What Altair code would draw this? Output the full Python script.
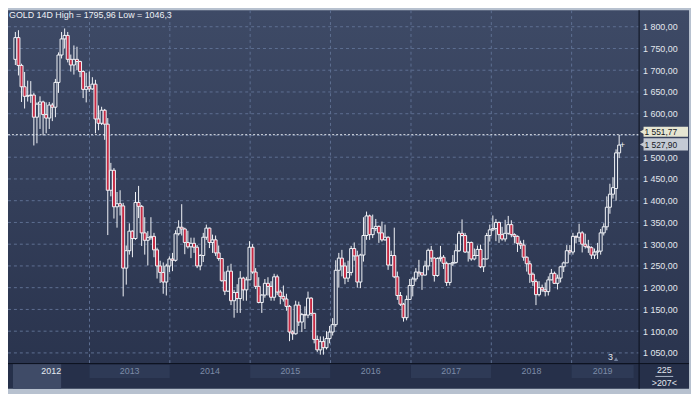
import altair as alt
import pandas as pd

# ---------------- data ----------------
opens = [1725,1775,1711,1662,1640,1642,1643,1592,1622,1627,
         1598,1590,1620,1615,1672,1735,1772,1780,1725,1712,
         1725,1720,1697,1656,1662,1657,1668,1588,1578,1608,
         1576,1424,1470,1386,1393,1388,1245,1285,1330,1313,
         1396,1387,1326,1309,1315,1318,1287,1250,1235,1213,
         1250,1266,1263,1324,1339,1335,1304,1294,1302,1293,
         1250,1274,1316,1337,1304,1310,1280,1267,1216,1192,
         1238,1170,1189,1175,1222,1195,1218,1293,1236,1203,
         1166,1183,1210,1203,1178,1225,1190,1180,1174,1157,
         1098,1094,1160,1121,1138,1137,1176,1141,1081,1057,
         1076,1062,1083,1098,1115,1240,1268,1250,1222,1235,
         1290,1273,1213,1275,1320,1365,1322,1336,1341,1326,
         1310,1316,1252,1274,1225,1182,1162,1131,1173,1205,
         1220,1236,1234,1229,1250,1286,1268,1228,1267,1270,
         1256,1212,1255,1258,1285,1325,1320,1282,1304,1266,
         1274,1288,1248,1266,1320,1333,1336,1350,1322,1312,
         1325,1345,1322,1318,1302,1298,1270,1255,1231,1214,
         1184,1200,1195,1191,1218,1233,1210,1222,1248,1257,
         1285,1282,1318,1316,1326,1300,1295,1292,1275,1282,
         1284,1326,1340,1385,1415,1428,1510]
highs = [1788,1792,1715,1696,1676,1675,1648,1626,1640,1630,
         1626,1627,1625,1680,1741,1788,1796,1788,1736,1757,
         1754,1722,1700,1694,1697,1684,1678,1619,1616,1611,
         1590,1487,1475,1420,1424,1395,1297,1348,1332,1420,
         1434,1390,1362,1330,1362,1326,1292,1262,1258,1255,
         1272,1280,1332,1355,1392,1338,1331,1315,1315,1298,
         1277,1326,1345,1338,1322,1320,1297,1268,1237,1250,
         1255,1195,1208,1238,1225,1225,1307,1300,1245,1224,
         1185,1220,1224,1215,1232,1230,1195,1205,1186,1160,
         1102,1170,1168,1142,1157,1191,1178,1142,1090,1088,
         1088,1100,1112,1130,1263,1280,1287,1258,1262,1296,
         1304,1285,1278,1362,1375,1368,1368,1358,1343,1352,
         1345,1318,1285,1338,1237,1190,1165,1182,1220,1225,
         1245,1264,1235,1262,1290,1296,1270,1270,1296,1275,
         1260,1256,1275,1300,1330,1357,1326,1306,1306,1290,
         1297,1299,1268,1326,1345,1366,1358,1352,1340,1356,
         1365,1355,1325,1320,1308,1310,1272,1262,1235,1219,
         1215,1207,1212,1226,1243,1237,1230,1250,1260,1298,
         1298,1326,1320,1347,1330,1324,1310,1295,1290,1303,
         1335,1348,1410,1439,1454,1518,1551.77]
lows = [1712,1688,1627,1612,1628,1625,1527,1532,1565,1550,
        1555,1565,1583,1592,1648,1727,1750,1718,1697,1690,
        1700,1684,1636,1626,1650,1655,1555,1562,1574,1540,
        1321,1410,1359,1338,1366,1180,1207,1276,1270,1310,
        1360,1296,1276,1251,1310,1270,1221,1211,1186,1182,
        1236,1238,1260,1320,1320,1277,1290,1268,1280,1245,
        1240,1259,1310,1291,1280,1273,1262,1214,1183,1190,
        1160,1131,1142,1142,1170,1170,1218,1232,1197,1164,
        1142,1177,1182,1170,1170,1183,1162,1168,1147,1077,
        1080,1092,1112,1098,1105,1130,1135,1072,1052,1046,
        1046,1058,1072,1090,1110,1200,1226,1208,1213,1228,
        1262,1200,1199,1260,1310,1310,1314,1330,1303,1306,
        1308,1241,1250,1222,1172,1158,1122,1125,1173,1180,
        1214,1225,1195,1228,1240,1259,1214,1225,1260,1243,
        1204,1205,1250,1255,1282,1318,1280,1260,1262,1263,
        1274,1245,1236,1265,1306,1330,1307,1303,1308,1306,
        1322,1316,1302,1282,1289,1262,1237,1211,1204,1160,
        1180,1190,1180,1182,1217,1209,1196,1212,1236,1257,
        1276,1276,1302,1305,1281,1290,1280,1266,1266,1266,
        1276,1320,1332,1370,1405,1400,1498]
closes = [1775,1711,1662,1640,1642,1643,1592,1622,1627,1598,
          1590,1620,1615,1672,1735,1772,1780,1725,1712,1725,
          1720,1697,1656,1662,1657,1668,1588,1578,1608,1576,
          1424,1470,1386,1393,1388,1245,1285,1330,1313,1396,
          1387,1326,1309,1315,1318,1287,1250,1235,1213,1250,
          1266,1263,1324,1339,1335,1304,1294,1302,1293,1250,
          1274,1316,1337,1304,1310,1280,1267,1216,1192,1238,
          1170,1189,1175,1222,1195,1218,1293,1236,1203,1166,
          1183,1210,1203,1178,1225,1190,1180,1174,1157,1098,
          1094,1160,1121,1138,1137,1176,1141,1081,1057,1076,
          1062,1083,1098,1115,1240,1268,1250,1222,1235,1290,
          1273,1213,1275,1320,1365,1322,1336,1341,1326,1310,
          1316,1252,1274,1225,1182,1162,1131,1173,1205,1220,
          1236,1234,1229,1250,1286,1268,1228,1267,1270,1256,
          1212,1255,1258,1285,1325,1320,1282,1304,1266,1274,
          1288,1248,1266,1320,1333,1336,1350,1322,1312,1325,
          1345,1322,1318,1302,1298,1270,1255,1231,1214,1184,
          1200,1195,1191,1218,1233,1210,1222,1248,1257,1285,
          1282,1318,1316,1326,1300,1295,1292,1275,1282,1284,
          1326,1340,1385,1415,1430,1510,1527.90]
first_period = "2012-01-30"          # 14-day candles
period = "14D"

price_levels = [1050, 1100, 1150, 1200, 1250, 1300, 1350, 1400,
                1450, 1500, 1550, 1600, 1650, 1700, 1750, 1800]
# the 1 550,00 label is hidden behind the price boxes in the reference
label_levels = [1050, 1100, 1150, 1200, 1250, 1300, 1350, 1400,
                1450, 1500, 1600, 1650, 1700, 1750, 1800]
grid_dates = ["2013-01-01", "2014-01-01", "2015-01-01", "2016-01-01",
              "2017-01-01", "2018-01-01", "2019-01-01"]
strip_years = [2012, 2013, 2014, 2015, 2016, 2017, 2018, 2019]
x_start = pd.Timestamp("2012-01-19")
x_end = pd.Timestamp("2019-10-10")
scroll_end = pd.Timestamp("2012-08-25")

title_text = "GOLD 14D High = 1795,96 Low = 1046,3"
box_prices = [1551.77, 1527.90]
box_labels = ["1 551,77", "1 527,90"]
box_fills = ["#e6e6d2", "#c4cad4"]
cursor_date = "2019-08-19"
cursor_price = 1527.90
marker_text = "3"
marker_text_date = "2019-06-27"
marker_tri_date = "2019-07-22"
corner_top = "225"
corner_bottom = ">207<"

# ---------------- layout / style ----------------
W = 638          # plot width
H = 383          # plot + strip height
PLOT_H = 357
RIGHT = 689
FONT = "Liberation Sans"
GRID = "#5e6f92"
WHITE = "#f2f4f8"
TXT = "#e3e7ee"

candles = pd.DataFrame({
    "date": pd.date_range(first_period, periods=len(opens), freq=period),
    "open": opens, "high": highs, "low": lows, "close": closes,
})

X = alt.Scale(domain=[alt.DateTime(year=2012, month=1, date=19),
                      alt.DateTime(year=2019, month=10, date=10)], nice=False)
Y = alt.Scale(domain=[967.5, 1837.95], nice=False, zero=False)
yaxis = alt.Axis(values=label_levels, orient="right", domain=False, ticks=False,
                 grid=False, title=None, labelPadding=4, labelFont=FONT,
                 labelFontSize=9, labelColor=TXT, labelAlign="left",
                 labelBaseline="middle", zindex=2,
                 labelExpr="replace(replace(format(datum.value, ',.2f'), ',', ' '), '.', ',')")

one = pd.DataFrame({"a": [0]})

bg = alt.Chart(one).mark_rect(
    fill=alt.Gradient(gradient="linear",
                      stops=[alt.GradientStop(color="#3e4a66", offset=0),
                             alt.GradientStop(color="#2a344e", offset=1)],
                      x1=0, x2=0, y1=0, y2=1)
).encode(x=alt.value(0), x2=alt.value(RIGHT), y=alt.value(0), y2=alt.value(PLOT_H))

strip_base = alt.Chart(one).mark_rect(fill="#26304a").encode(
    x=alt.value(0), x2=alt.value(RIGHT), y=alt.value(PLOT_H), y2=alt.value(H))

strip = pd.DataFrame({"year": [str(y) for y in strip_years]})
strip["start"] = [max(pd.Timestamp(f"{y}-01-01"), x_start) for y in strip_years]
strip["end"] = [min(pd.Timestamp(f"{y + 1}-01-01"), x_end) for y in strip_years]
strip["mid"] = strip["start"] + (strip["end"] - strip["start"]) / 2
strip["shade"] = ["#26304a" if i % 2 == 0 else "#2e3a56" for i in range(len(strip_years))]
strip["tcolor"] = ["#e6ebf2" if i == 0 else "#7d8ca8" for i in range(len(strip_years))]

bands = alt.Chart(strip).mark_rect().encode(
    x=alt.X("start:T", scale=X, axis=None), x2="end:T",
    y=alt.value(PLOT_H + 2), y2=alt.value(PLOT_H + 15),
    fill=alt.Fill("shade:N", scale=None))

thumb = alt.Chart(pd.DataFrame({"s": [x_start], "e": [scroll_end]})).mark_rect(
    fill="#3f4b67").encode(
    x=alt.X("s:T", scale=X, axis=None), x2="e:T",
    y=alt.value(PLOT_H + 1), y2=alt.value(H))

strip_labels = alt.Chart(strip).mark_text(font=FONT, fontSize=9, baseline="middle").encode(
    x=alt.X("mid:T", scale=X, axis=None), y=alt.value(PLOT_H + 8.5),
    text="year:N", color=alt.Color("tcolor:N", scale=None))

vgrid = alt.Chart(pd.DataFrame({"d": pd.to_datetime(grid_dates)})).mark_rule(
    color=GRID, strokeDash=[3, 3], strokeWidth=1).encode(
    x=alt.X("d:T", scale=X, axis=None), y=alt.value(0), y2=alt.value(PLOT_H))

hgrid = alt.Chart(pd.DataFrame({"level": price_levels})).mark_rule(
    color=GRID, strokeDash=[3, 3], strokeWidth=1).encode(
    y=alt.Y("level:Q", scale=Y, axis=yaxis), x=alt.value(0), x2=alt.value(W))

high_line = alt.Chart(pd.DataFrame({"p": [box_prices[0]]})).mark_rule(
    color="#e8ecf2", strokeDash=[2, 2], strokeWidth=1).encode(
    y=alt.Y("p:Q", scale=Y, axis=yaxis), x=alt.value(0), x2=alt.value(W))

wicks = alt.Chart(candles).mark_rule(color=WHITE, strokeWidth=1).encode(
    x=alt.X("date:T", scale=X, axis=None),
    y=alt.Y("low:Q", scale=Y, axis=yaxis), y2="high:Q")

bodies = alt.Chart(candles).mark_bar(width=3, stroke=WHITE, strokeWidth=1).encode(
    x=alt.X("date:T", scale=X, axis=None),
    y=alt.Y("open:Q", scale=Y, axis=yaxis), y2="close:Q",
    fill=alt.when(alt.datum.close < alt.datum.open)
             .then(alt.value("#c62a44"))
             .otherwise(alt.value("#34405c")))

cursor = alt.Chart(pd.DataFrame({"d": [pd.Timestamp(cursor_date)], "p": [cursor_price]})).mark_text(
    text="+", font=FONT, fontSize=9, color=WHITE, baseline="middle").encode(
    x=alt.X("d:T", scale=X, axis=None), y=alt.Y("p:Q", scale=Y, axis=yaxis))

marker_lbl = alt.Chart(pd.DataFrame({"d": [pd.Timestamp(marker_text_date)]})).mark_text(
    text=marker_text, font=FONT, fontSize=9, color=TXT, baseline="middle").encode(
    x=alt.X("d:T", scale=X, axis=None), y=alt.value(PLOT_H - 6))

marker_tri = alt.Chart(pd.DataFrame({"d": [pd.Timestamp(marker_tri_date)]})).mark_point(
    shape="triangle-up", filled=True, size=18, color="#6f7f9c", opacity=1).encode(
    x=alt.X("d:T", scale=X, axis=None), y=alt.value(PLOT_H - 4))

# price boxes on the right axis (high and last price)
box_layers = []
box_shapes = [(-8.0, 2.0, -3.0), (-7.0, 5.5, -0.5)]   # top, bottom, text shift
for price, label, fillc, (top, bottom, shift) in zip(box_prices, box_labels, box_fills, box_shapes):
    bdf = pd.DataFrame({"p": [price], "label": [label]})
    box_layers.append(alt.Chart(bdf).mark_rect(fill=fillc, yOffset=top, y2Offset=bottom).encode(
        x=alt.value(643), x2=alt.value(RIGHT - 1),
        y=alt.Y("p:Q", scale=Y, axis=yaxis), y2="p:Q"))
    box_layers.append(alt.Chart(bdf).mark_point(shape="triangle-left", filled=True, size=26,
                                                fill=fillc, stroke=None, opacity=1,
                                                yOffset=shift).encode(
        x=alt.value(641.5), y=alt.Y("p:Q", scale=Y, axis=yaxis)))
    box_layers.append(alt.Chart(bdf).mark_text(font=FONT, fontSize=8.5, color="#15181e",
                                               align="left", baseline="middle", dy=shift).encode(
        x=alt.value(644), y=alt.Y("p:Q", scale=Y, axis=yaxis), text="label:N"))

sep_h = alt.Chart(one).mark_rule(color="#0b101c", strokeWidth=1).encode(
    x=alt.value(0), x2=alt.value(RIGHT), y=alt.value(PLOT_H + 0.5))
sep_v = alt.Chart(one).mark_rule(color="#0b101c", strokeWidth=1).encode(
    x=alt.value(W + 0.5), y=alt.value(0), y2=alt.value(H))

corner_t = alt.Chart(one).mark_text(text=corner_top, font=FONT, fontSize=9, color=TXT,
                                    baseline="middle").encode(
    x=alt.value(664), y=alt.value(PLOT_H + 7))
corner_line = alt.Chart(one).mark_rule(color="#aab4c6", strokeWidth=1).encode(
    x=alt.value(655), x2=alt.value(673), y=alt.value(PLOT_H + 13.5))
corner_b = alt.Chart(one).mark_text(text=corner_bottom, font=FONT, fontSize=9, color=TXT,
                                    baseline="middle").encode(
    x=alt.value(664), y=alt.value(PLOT_H + 20))

title = alt.Chart(one).mark_text(text=title_text, font=FONT, fontSize=9, color="#eef1f6",
                                 align="left", baseline="top").encode(
    x=alt.value(1), y=alt.value(1))

chart = alt.layer(
    bg, strip_base, bands, thumb, strip_labels,
    vgrid, hgrid, high_line, wicks, bodies, cursor,
    marker_lbl, marker_tri, *box_layers,
    sep_h, sep_v, corner_t, corner_line, corner_b, title,
).properties(
    width=W, height=H, background="#b7c1cf",
    padding={"left": 0, "top": 0, "right": 53, "bottom": 3},
    autosize=alt.AutoSizeParams(type="none"),
).configure_view(stroke=None)

chart.save("out.html", embed_options={"renderer": "svg", "actions": False})
